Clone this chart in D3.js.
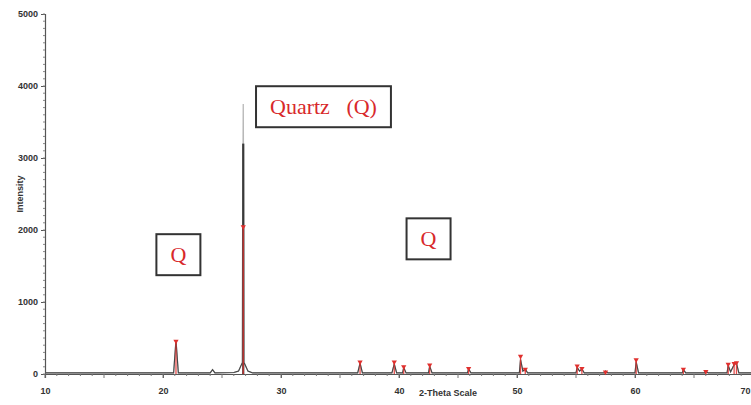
<!DOCTYPE html>
<html>
<head>
<meta charset="utf-8">
<script src="https://cdn.jsdelivr.net/npm/d3@7"></script>
<style>
  html, body { margin: 0; padding: 0; background: #fff; }
  svg { display: block; }
  .tick text { font-family: Arial, "Liberation Sans", sans-serif; font-weight: bold; font-size: 9px; fill: #333; }
</style>
</head>
<body>
<svg id="chart" width="751" height="405"></svg>
<script>
// Measured pattern: [2-theta, intensity] points of the scan trace
const traceTheta = [10, 20.9, 21.1, 21.3, 24.0, 24.2, 24.4, 26.0, 26.4, 26.7, 26.8, 26.9, 27.2, 27.6,
  36.5, 36.7, 36.9, 39.4, 39.6, 39.8, 40.3, 40.4, 40.6, 42.5, 42.6, 42.8, 45.8, 45.9, 46.1,
  50.2, 50.3, 50.5, 50.7, 50.9, 55.0, 55.1, 55.3, 55.5, 55.7, 57.4, 57.5, 57.7, 60.0, 60.1, 60.3,
  64.0, 64.1, 64.3, 65.9, 66.0, 66.2, 67.8, 67.9, 68.1, 68.4, 68.6, 68.8, 70.6];
const traceIntensity = [15, 15, 470, 15, 15, 60, 15, 20, 40, 150, 3750, 150, 40, 15,
  15, 150, 15, 15, 140, 15, 15, 90, 15, 15, 110, 15, 15, 70, 15,
  15, 200, 40, 70, 15, 15, 90, 40, 70, 15, 15, 40, 15, 15, 170, 15,
  15, 60, 15, 15, 40, 15, 15, 120, 30, 130, 150, 15, 15];

// Darker part of the main reflection
const mainPeakTheta = 26.8;
const mainPeakDark = 3200;

// Reference (quartz) reflections: position and intensity
const refTheta = [21.1, 26.8, 36.7, 39.6, 40.4, 42.6, 45.9, 50.3, 50.7, 55.1, 55.5, 57.5, 60.1, 64.1, 66.0, 67.9, 68.4, 68.6];
const refIntensity = [470, 2060, 180, 180, 115, 140, 90, 260, 80, 125, 90, 40, 210, 80, 50, 150, 160, 170];

const yTickValues = [0, 1000, 2000, 3000, 4000, 5000];
const xTickValues = [10, 20, 30, 40, 50, 60, 70];

// Phase labels: text and centre position in data units
const labelText = ["Quartz   (Q)", "Q", "Q"];
const labelTheta = [33.6, 21.3, 42.5];
const labelIntensity = [3715, 1660, 1880];

const svg = d3.select("#chart");
const x = d3.scaleLinear().domain([10, 70]).range([45, 753]);
const y = d3.scaleLinear().domain([0, 5000]).range([374, 14]);

const red = "#e0302e";

// Y axis
const yAxis = svg.append("g").attr("transform", "translate(45,0)");
yAxis.call(d3.axisLeft(y).tickValues(yTickValues).tickFormat(d3.format("d")).tickSize(4).tickPadding(3));
yAxis.select(".domain").attr("stroke", "#555").attr("stroke-width", 1.2);
yAxis.selectAll(".tick line").attr("stroke", "#555");
yAxis.append("g").selectAll("line").data(d3.range(0, 5001, 100))
  .join("line").attr("x1", -2).attr("x2", 0)
  .attr("y1", d => y(d)).attr("y2", d => y(d)).attr("stroke", "#888");

// X axis
const xAxis = svg.append("g").attr("transform", "translate(0,374)");
xAxis.call(d3.axisBottom(x).tickValues(xTickValues).tickSize(4).tickPadding(10));
xAxis.select(".domain").attr("stroke", "#555").attr("stroke-width", 1.2);
xAxis.selectAll(".tick line").attr("stroke", "#555");
xAxis.selectAll(".tick text").filter(d => d === 70).attr("text-anchor", "end").attr("dx", -3);
xAxis.append("g").selectAll("line").data(d3.range(10, 71, 1))
  .join("line").attr("y1", 0).attr("y2", d => d % 5 === 0 ? 4 : 2)
  .attr("x1", d => x(d)).attr("x2", d => x(d)).attr("stroke", "#777");

// Axis titles
svg.append("text").attr("x", 419).attr("y", 396).attr("text-anchor", "start")
  .attr("font-family", "Arial, 'Liberation Sans', sans-serif").attr("font-weight", "bold")
  .attr("font-size", 9).attr("fill", "#333").text("2-Theta Scale");
svg.append("text").attr("transform", "translate(23,194) rotate(-90)").attr("text-anchor", "middle")
  .attr("font-family", "Arial, 'Liberation Sans', sans-serif").attr("font-weight", "bold")
  .attr("font-size", 9).attr("fill", "#333").text("Intensity");

// Scan trace
const line = d3.line().x(d => x(d[0])).y(d => y(d[1]));
const tracePts = traceTheta.map((t, i) => [t, traceIntensity[i]]);
svg.append("path").datum(tracePts).attr("d", line)
  .attr("fill", "none").attr("stroke", "#b8b8b8").attr("stroke-width", 1.3);
svg.append("line")
  .attr("x1", x(mainPeakTheta)).attr("x2", x(mainPeakTheta))
  .attr("y1", y(0)).attr("y2", y(mainPeakDark))
  .attr("stroke", "#3a3a3a").attr("stroke-width", 2.2);
svg.append("path").datum(tracePts.filter(d => d[0] !== mainPeakTheta)).attr("d", line)
  .attr("fill", "none").attr("stroke", "#444").attr("stroke-width", 1.1);

// Reference sticks with markers
const refs = refTheta.map((t, i) => ({ t, v: refIntensity[i] }));
svg.append("g").selectAll("line").data(refs).join("line")
  .attr("x1", d => x(d.t)).attr("x2", d => x(d.t))
  .attr("y1", y(0)).attr("y2", d => y(d.v))
  .attr("stroke", red).attr("stroke-opacity", 0.85).attr("stroke-width", 1.3);
svg.append("g").selectAll("path").data(refs).join("path")
  .attr("d", d3.symbol(d3.symbolTriangle, 12)())
  .attr("fill", red).attr("transform", d => `translate(${x(d.t)},${y(d.v) + 1}) rotate(180)`);

// Phase label boxes
const labels = labelText.map((s, i) => ({ s, t: labelTheta[i], v: labelIntensity[i] }));
const lg = svg.append("g").selectAll("g").data(labels).join("g")
  .attr("transform", d => `translate(${x(d.t)},${y(d.v)})`);
lg.append("text")
  .attr("font-family", "'Liberation Serif', 'Times New Roman', serif").attr("font-size", 22)
  .attr("fill", "#d8292b").attr("text-anchor", "middle").style("white-space", "pre")
  .attr("dy", "0.35em").text(d => d.s);
lg.each(function () {
  const g = d3.select(this);
  const bb = g.select("text").node().getBBox();
  const padX = 14, padY = 8;
  g.insert("rect", "text")
    .attr("x", bb.x - padX).attr("y", bb.y - padY)
    .attr("width", bb.width + padX * 2).attr("height", bb.height + padY * 2)
    .attr("fill", "#fff").attr("stroke", "#333").attr("stroke-width", 2);
});
</script>
</body>
</html>
